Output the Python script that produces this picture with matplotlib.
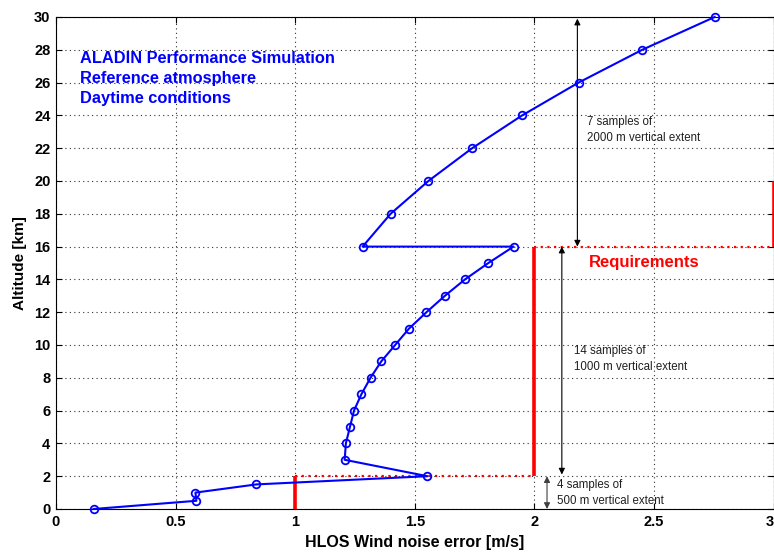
import matplotlib
matplotlib.use("Agg")
import matplotlib.pyplot as plt

plt.rcParams['font.family'] = ['Liberation Sans', 'DejaVu Sans']

# Data
altitude = [0, 0.5, 1, 1.5, 2, 3, 4, 5, 6, 7, 8, 9, 10, 11, 12, 13, 14, 15, 16,
            16, 18, 20, 22, 24, 26, 28, 30]
noise = [0.157, 0.587, 0.583, 0.838, 1.553, 1.207, 1.212, 1.229, 1.246, 1.277,
         1.315, 1.36, 1.418, 1.476, 1.549, 1.626, 1.71, 1.808, 1.913,
         1.282, 1.399, 1.557, 1.74, 1.949, 2.185, 2.451, 2.754]

# Requirement segments: (x, y_bottom, y_top)
req_x = [1, 2, 3]
req_ybot = [0, 2, 16]
req_ytop = [2, 16, 20]

xticks = [0, 0.5, 1, 1.5, 2, 2.5, 3]
xtick_labels = ['0', '0.5', '1', '1.5', '2', '2.5', '3']
yticks = list(range(0, 31, 2))

fig = plt.figure(figsize=(7.74, 5.52), dpi=100)
ax = fig.add_axes([56/774, 43/552, 717.5/774, 492/552])

# grid
ax.grid(True, linestyle=(0, (1, 3)), color='#303030', linewidth=0.8)
ax.set_axisbelow(True)

# requirement lines
for i in range(len(req_x)):
    ax.plot([req_x[i], req_x[i]], [req_ybot[i], req_ytop[i]], color='red',
            linewidth=2.6, solid_capstyle='butt', clip_on=False, zorder=3)
for i in range(len(req_x) - 1):
    ax.plot([req_x[i], req_x[i + 1]], [req_ytop[i], req_ytop[i]], color='red',
            linestyle=(0, (1, 2)), linewidth=1.6, clip_on=False, zorder=3)

# data
ax.plot(noise, altitude, color='blue', linewidth=1.5, marker='o',
        markerfacecolor='none', markeredgecolor='blue', markersize=5.5,
        markeredgewidth=1.3, zorder=4, clip_on=False)

# arrows
arrow_kw = dict(arrowstyle='<|-|>', color='black', lw=0.8,
                mutation_scale=9, shrinkA=0, shrinkB=0)
ax.annotate('', xy=(2.18, 29.9), xytext=(2.18, 16), arrowprops=arrow_kw)
ax.annotate('', xy=(2.115, 16), xytext=(2.115, 2.1), arrowprops=arrow_kw)
arrow_kw2 = dict(arrow_kw)
arrow_kw2['color'] = '#404040'
ax.annotate('', xy=(2.053, 2), xytext=(2.053, 0), arrowprops=arrow_kw2)

ax.text(2.22, 23.1, '7 samples of\n2000 m vertical extent', fontsize=8.3,
        va='center', ha='left', color='#202020', linespacing=1.45)
ax.text(2.165, 9.15, '14 samples of\n1000 m vertical extent', fontsize=8.3,
        va='center', ha='left', color='#202020', linespacing=1.45)
ax.text(2.095, 1.0, '4 samples of\n500 m vertical extent', fontsize=8.3,
        va='center', ha='left', color='#202020', linespacing=1.45)

ax.text(2.23, 15.0, 'Requirements', fontsize=12, fontweight='bold',
        color='red', va='center', ha='left')

ax.text(0.1, 26.25, 'ALADIN Performance Simulation\nReference atmosphere\nDaytime conditions',
        fontsize=11.8, fontweight='bold', color='blue', va='center', ha='left',
        linespacing=1.38)

ax.set_xlim(0, 3)
ax.set_ylim(0, 30)
ax.set_xticks(xticks)
ax.set_xticklabels(xtick_labels)
ax.set_yticks(yticks)
ax.tick_params(direction='in', top=True, right=True, length=4, width=0.8,
               labelsize=10.5, pad=4)
for lbl in ax.get_xticklabels() + ax.get_yticklabels():
    lbl.set_fontweight('bold')
ax.get_xticklabels()[-1].set_horizontalalignment('right')
for sp in ax.spines.values():
    sp.set_linewidth(0.8)

ax.set_xlabel('HLOS Wind noise error [m/s]', fontsize=11.5, fontweight='bold',
              labelpad=5)
ax.set_ylabel('Altitude [km]', fontsize=11, fontweight='bold', labelpad=5)

fig.savefig('out.png', dpi=100)
